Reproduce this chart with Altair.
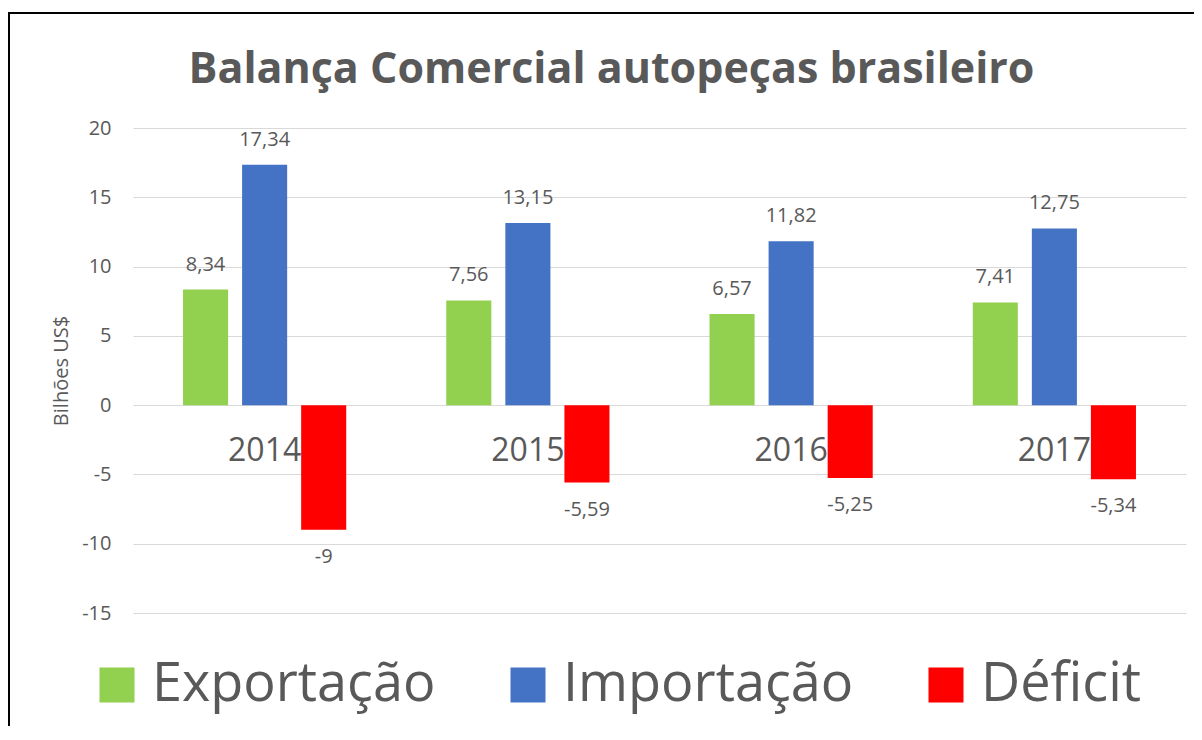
import altair as alt
import pandas as pd

years = ["2014", "2015", "2016", "2017"]
series = ["Exportação", "Importação", "Déficit"]
exportacao = [8.34, 7.56, 6.57, 7.41]
importacao = [17.34, 13.15, 11.82, 12.75]
deficit = [-9, -5.59, -5.25, -5.34]
colors = ["#92D050", "#4472C4", "#FF0000"]
y_ticks = [-15, -10, -5, 0, 5, 10, 15, 20]

rows = []
for s, vals in zip(series, [exportacao, importacao, deficit]):
    for y, v in zip(years, vals):
        rows.append({"ano": y, "serie": s, "valor": v,
                     "rotulo": ("%g" % v).replace(".", ",")})
df = pd.DataFrame(rows)
df_years = pd.DataFrame({"ano": years})

FONT = "Open Sans"
GREY = "#595959"

x_enc = alt.X("ano:N", sort=years, axis=None,
              scale=alt.Scale(paddingInner=0, paddingOuter=0))
xo_enc = alt.XOffset("serie:N", sort=series,
                     scale=alt.Scale(domain=series, paddingInner=0.237, paddingOuter=0.847))
y_scale = alt.Scale(domain=[-15, 20], nice=False, zero=False)

base = alt.Chart(df)

frame = alt.Chart(df_years).mark_rect(fill=None, stroke="#000000", strokeWidth=1.5).encode(
    x=alt.value(-124), x2=alt.value(1200), y=alt.value(-115), y2=alt.value(700)
)

year_labels = alt.Chart(df_years).mark_text(
    font=FONT, fontSize=32, color=GREY, baseline="middle", dy=46
).encode(x=x_enc, y=alt.datum(0, scale=y_scale), text="ano:N")

bars = base.mark_bar().encode(
    x=x_enc,
    xOffset=xo_enc,
    y=alt.Y("valor:Q", scale=y_scale,
            axis=alt.Axis(values=y_ticks, title="Bilhões US$", grid=True,
                          labelExpr="'' + datum.value",
                          gridColor="#D9D9D9", gridWidth=1, domain=False, ticks=False,
                          labelFont=FONT, labelFontSize=20, labelColor=GREY, labelPadding=22,
                          titleFont=FONT, titleFontSize=20, titleFontWeight="normal",
                          titleColor=GREY, titlePadding=10)),
    color=alt.Color("serie:N", sort=series,
                    scale=alt.Scale(domain=series, range=colors),
                    legend=alt.Legend(orient="none", legendX=-43, legendY=530,
                                      direction="horizontal", title=None,
                                      symbolType="square", symbolSize=1225,
                                      symbolStrokeWidth=0, symbolOpacity=1,
                                      labelFont=FONT, labelFontSize=54, labelColor=GREY,
                                      labelOffset=8, columnPadding=65, padding=0,
                                      labelLimit=0)),
)

pos_labels = base.transform_filter("datum.valor >= 0").mark_text(
    font=FONT, fontSize=20, color=GREY, baseline="middle", dy=-25
).encode(x=x_enc, xOffset=xo_enc, y=alt.Y("valor:Q", scale=y_scale), text="rotulo:N")

neg_labels = base.transform_filter("datum.valor < 0").mark_text(
    font=FONT, fontSize=20, color=GREY, baseline="middle", dy=27
).encode(x=x_enc, xOffset=xo_enc, y=alt.Y("valor:Q", scale=y_scale), text="rotulo:N")

chart = alt.layer(frame, year_labels, bars, pos_labels, neg_labels).properties(
    width=1053, height=485,
    autosize="none",
    padding={"left": 125, "top": 120, "right": 8, "bottom": 113},
    title=alt.Title("Balança Comercial autopeças brasileiro", font=FONT, fontSize=43,
                    fontWeight="bold", color=GREY, anchor="middle", dx=-48,
                    baseline="alphabetic", offset=0, dy=114),
).configure_view(stroke=None)

chart.save("out.html", embed_options={"renderer": "svg", "actions": False})
